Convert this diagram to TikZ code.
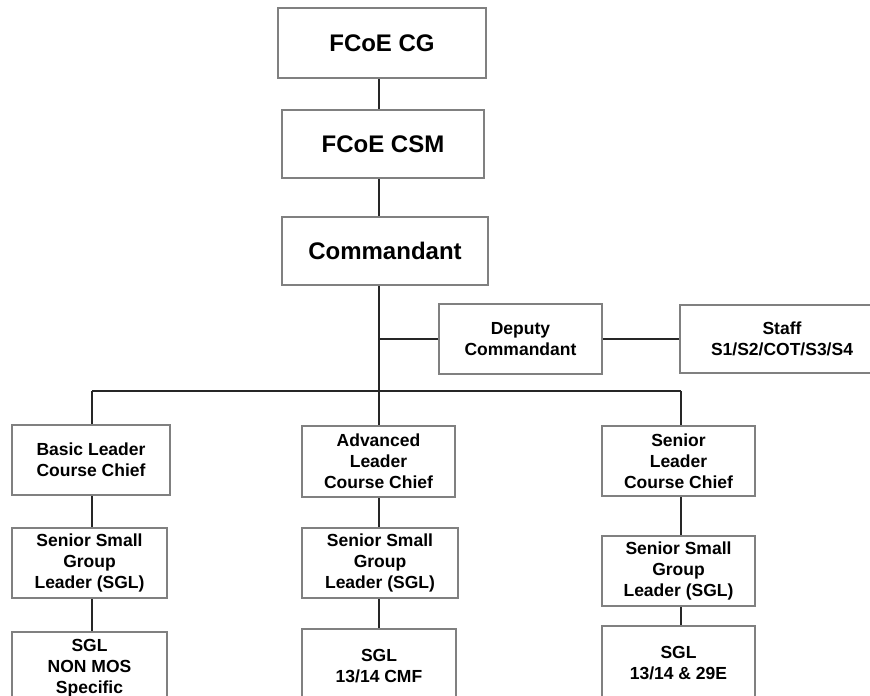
\documentclass[tikz,border=0pt]{standalone}
\usepackage{fontspec}
\setmainfont{Liberation Sans}
\begin{document}
\begin{tikzpicture}[x=1pt,y=-1pt,
  box/.style={draw=black!50, line width=2.4pt, fill=white, inner sep=0pt,
    align=center, font=\bfseries\fontsize{17.5}{21}\selectfont},
  bigbox/.style={box, font=\bfseries\fontsize{24}{29}\selectfont},
  link/.style={draw=black!85, line width=2pt}]
\useasboundingbox (0,0) rectangle (870,696);
\clip (0,0) rectangle (870,696);

% command group
\node[bigbox, minimum width=208, minimum height=70] (cg)  at (382,43)  {FCoE CG};
\node[bigbox, minimum width=202, minimum height=68] (csm) at (383,144) {FCoE CSM};
\node[bigbox, minimum width=206, minimum height=68] (cmd) at (385,251) {Commandant};

% deputy and staff
\node[box, minimum width=163, minimum height=70] (dep)   at (520.5,339) {Deputy\\Commandant};
\node[box, minimum width=204, minimum height=68] (staff) at (782,339)   {Staff\\S1/S2/COT/S3/S4};

% course chiefs
\node[box, minimum width=158, minimum height=70] (blc) at (91,460)    {Basic Leader\\Course Chief};
\node[box, minimum width=153, minimum height=71] (alc) at (378.5,461.5) {Advanced\\Leader\\Course Chief};
\node[box, minimum width=153, minimum height=70] (slc) at (678.5,461) {Senior\\Leader\\Course Chief};

% senior small group leaders
\node[box, minimum width=155, minimum height=70] (ssg1) at (89.5,563)  {Senior Small\\Group\\Leader (SGL)};
\node[box, minimum width=156, minimum height=70] (ssg2) at (380,563)   {Senior Small\\Group\\Leader (SGL)};
\node[box, minimum width=153, minimum height=70] (ssg3) at (678.5,571) {Senior Small\\Group\\Leader (SGL)};

% small group leaders
\node[box, minimum width=155, minimum height=72] (sgl1) at (89.5,668)  {SGL\\NON MOS\\Specific};
\node[box, minimum width=154, minimum height=74] (sgl2) at (379,666)   {SGL\\13/14 CMF};
\node[box, minimum width=153, minimum height=74] (sgl3) at (678.5,663) {SGL\\13/14 \& 29E};

% trunk and bus coordinates
\coordinate (t) at (379,0);
\coordinate (busL) at (92,391);
\coordinate (busM) at (379,391);
\coordinate (busR) at (681,391);

% connectors
\draw[link] (cg.south -| t) -- (csm.north -| t);
\draw[link] (csm.south -| t) -- (cmd.north -| t);
\draw[link] (cmd.south -| t) -- (busM);
\draw[link] (t |- dep) -- (dep.west);
\draw[link] (dep.east) -- (staff.west);
\draw[link] (busL) -- (busR);
\draw[link] (busL) -- (blc.north -| busL);
\draw[link] (busM) -- (alc.north -| busM);
\draw[link] (busR) -- (slc.north -| busR);
\draw[link] (blc.south -| busL) -- (ssg1.north -| busL);
\draw[link] (ssg1.south -| busL) -- (sgl1.north -| busL);
\draw[link] (alc.south -| busM) -- (ssg2.north -| busM);
\draw[link] (ssg2.south -| busM) -- (sgl2.north -| busM);
\draw[link] (slc.south -| busR) -- (ssg3.north -| busR);
\draw[link] (ssg3.south -| busR) -- (sgl3.north -| busR);
\end{tikzpicture}
\end{document}
